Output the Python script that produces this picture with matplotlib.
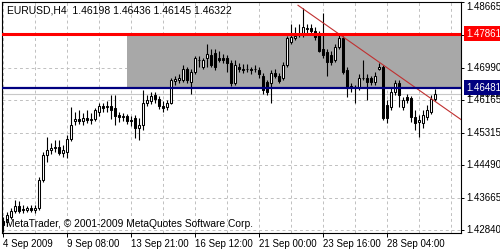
import matplotlib
matplotlib.use("Agg")
import matplotlib.pyplot as plt
from matplotlib.patches import Rectangle
import numpy as np

plt.rcParams["font.family"] = ["Liberation Sans", "DejaVu Sans"]

# EURUSD H4, Werte
opens = [1.4307, 1.4304, 1.4317, 1.4332, 1.4345, 1.4337, 1.4335, 1.4340, 1.4335, 1.4340,
         1.4411, 1.4475, 1.4488, 1.4493, 1.4496, 1.4480, 1.4483, 1.4516, 1.4562, 1.4567,
         1.4562, 1.4570, 1.4564, 1.4567, 1.4585, 1.4600, 1.4598, 1.4600, 1.4595, 1.4577,
         1.4572, 1.4575, 1.4564, 1.4570, 1.4544, 1.4552, 1.4608, 1.4613, 1.4628, 1.4618,
         1.4600, 1.4598, 1.4610, 1.4664, 1.4667, 1.4667, 1.4697, 1.4662, 1.4687, 1.4718,
         1.4700, 1.4725, 1.4731, 1.4736, 1.4725, 1.4723, 1.4723, 1.4710, 1.4659, 1.4700,
         1.4697, 1.4695, 1.4695, 1.4695,
         1.4692, 1.4679, 1.4662, 1.4659, 1.4685, 1.4677, 1.4674, 1.4705, 1.4764, 1.4774,
         1.4782, 1.4787, 1.4797, 1.4800, 1.4794, 1.4787, 1.4748, 1.4738, 1.4731, 1.4718,
         1.4751, 1.4774, 1.4692, 1.4651, 1.4649, 1.4646, 1.4672, 1.4674, 1.4672, 1.4662,
         1.4697, 1.4700, 1.4603, 1.4598, 1.4636, 1.4659, 1.4598, 1.4623, 1.4621, 1.4572,
         1.4559, 1.4557, 1.4572, 1.4585, 1.46198]
highs = [1.4317, 1.4330, 1.4340, 1.4360, 1.4358, 1.4347, 1.4345, 1.4347, 1.4347, 1.4419,
         1.4483, 1.4521, 1.4506, 1.4513, 1.4513, 1.4501, 1.4526, 1.4598, 1.4585, 1.4590,
         1.4582, 1.4590, 1.4582, 1.4595, 1.4608, 1.4610, 1.4613, 1.4628, 1.4628, 1.4585,
         1.4582, 1.4580, 1.4575, 1.4577, 1.4570, 1.4641, 1.4628, 1.4636, 1.4636, 1.4626,
         1.4613, 1.4616, 1.4674, 1.4677, 1.4682, 1.4705, 1.4702, 1.4695, 1.4728, 1.4728,
         1.4725, 1.4761, 1.4748, 1.4748, 1.4743, 1.4733, 1.4731, 1.4718, 1.4718, 1.4710,
         1.4708, 1.4708, 1.4702, 1.4705,
         1.4702, 1.4685, 1.4667, 1.4692, 1.4697, 1.4685, 1.4713, 1.4779, 1.4812, 1.4802,
         1.4810, 1.4853, 1.4812, 1.4812, 1.4802, 1.4794, 1.4838, 1.4748, 1.4743, 1.4761,
         1.4782, 1.4779, 1.4700, 1.4659, 1.4656, 1.4682, 1.4718, 1.4682, 1.4679, 1.4687,
         1.4710, 1.4705, 1.4616, 1.4646, 1.4667, 1.4667, 1.4623, 1.4633, 1.4626, 1.4590,
         1.4577, 1.4590, 1.4603, 1.4628, 1.46436]
lows = [1.4279, 1.4294, 1.4312, 1.4327, 1.4327, 1.4327, 1.4330, 1.4330, 1.4327, 1.4335,
        1.4406, 1.4457, 1.4478, 1.4483, 1.4475, 1.4470, 1.4468, 1.4511, 1.4552, 1.4554,
        1.4552, 1.4557, 1.4554, 1.4562, 1.4575, 1.4585, 1.4587, 1.4567, 1.4552, 1.4559,
        1.4562, 1.4554, 1.4549, 1.4519, 1.4513, 1.4539, 1.4600, 1.4605, 1.4608, 1.4593,
        1.4585, 1.4590, 1.4605, 1.4656, 1.4659, 1.4662, 1.4659, 1.4631, 1.4682, 1.4700,
        1.4695, 1.4700, 1.4700, 1.4692, 1.4713, 1.4710, 1.4687, 1.4651, 1.4654, 1.4687,
        1.4685, 1.4687, 1.4682, 1.4687,
        1.4674, 1.4633, 1.4628, 1.4608, 1.4672, 1.4659, 1.4667, 1.4700, 1.4761, 1.4769,
        1.4777, 1.4777, 1.4789, 1.4784, 1.4769, 1.4738, 1.4723, 1.4679, 1.4705, 1.4713,
        1.4746, 1.4682, 1.4623, 1.4636, 1.4608, 1.4641, 1.4667, 1.4616, 1.4656, 1.4656,
        1.4692, 1.4564, 1.4557, 1.4590, 1.4628, 1.4598, 1.4590, 1.4608, 1.4559, 1.4539,
        1.4521, 1.4544, 1.4564, 1.4580, 1.46145]
closes = [1.4296, 1.4322, 1.4332, 1.4345, 1.4332, 1.4335, 1.4340, 1.4335, 1.4340, 1.4411,
          1.4475, 1.4488, 1.4493, 1.4496, 1.4480, 1.4488, 1.4516, 1.4552, 1.4567, 1.4562,
          1.4570, 1.4564, 1.4567, 1.4590, 1.4600, 1.4595, 1.4600, 1.4590, 1.4575, 1.4572,
          1.4575, 1.4562, 1.4562, 1.4544, 1.4552, 1.4608, 1.4616, 1.4626, 1.4618, 1.4600,
          1.4595, 1.4608, 1.4667, 1.4669, 1.4672, 1.4697, 1.4667, 1.4687, 1.4723, 1.4720,
          1.4718, 1.4733, 1.4705, 1.4700, 1.4720, 1.4718, 1.4710, 1.4659, 1.4705, 1.4695,
          1.4692, 1.4697, 1.4692, 1.4697,
          1.4682, 1.4641, 1.4636, 1.4685, 1.4679, 1.4664, 1.4705, 1.4774, 1.4777, 1.4779,
          1.4789, 1.4802, 1.4800, 1.4792, 1.4777, 1.4743, 1.4731, 1.4713, 1.4713, 1.4751,
          1.4774, 1.4687, 1.4646, 1.4646, 1.4646, 1.4674, 1.4674, 1.4662, 1.4662, 1.4679,
          1.4702, 1.4570, 1.4570, 1.4636, 1.4659, 1.4628, 1.4616, 1.4616, 1.4572, 1.4557,
          1.4564, 1.4577, 1.4590, 1.4620, 1.46322]

time_ticks = [0, 16, 32, 48, 64, 80, 96]
time_labels = ["4 Sep 2009", "9 Sep 08:00", "13 Sep 21:00", "16 Sep 12:00",
               "21 Sep 00:00", "23 Sep 16:00", "28 Sep 04:00"]
price_ticks = [1.48665, 1.47840, 1.46990, 1.46165, 1.45315, 1.44490, 1.43665, 1.42840]

resistance = 1.47861
support = 1.46481
bid = 1.46322
box_start = 31
trend_bars = [74, 114]
trend_prices = [1.4857, 1.4570]

title = "EURUSD,H4  1.46198 1.46436 1.46145 1.46322"
copyright = "MetaTrader, \u00a9 2001-2009 MetaQuotes Software Corp."

fig = plt.figure(figsize=(5, 2.5), dpi=100)
ax = fig.add_axes([0.004, 0.068, 0.918, 0.924])
ax.set_xlim(-0.25, 114.5)
ax.set_ylim(1.42761, 1.48672)

# Raster
for t in range(0, 115, 8):
    ax.axvline(t, color="#c0c0c0", lw=0.7, ls=(0, (3, 3)), zorder=0)
for p in price_ticks:
    ax.axhline(p, color="#c0c0c0", lw=0.7, ls=(0, (3, 3)), zorder=0)

# graues Rechteck zwischen Support und Resistance
ax.add_patch(Rectangle((box_start, support), 200, resistance - support,
                       facecolor="#a8a8a8", edgecolor="none", zorder=1))

ax.axhline(bid, color="#c8c8c8", lw=0.8, zorder=1.5)
ax.axhline(resistance, color="#ff0000", lw=2.2, zorder=4)
ax.axhline(support, color="#000080", lw=1.6, zorder=4)

# Kerzen
x = np.arange(len(opens))
o = np.array(opens)
c = np.array(closes)
ax.vlines(x, lows, highs, color="black", lw=0.8, zorder=2)
up = c >= o
body_low = np.minimum(o, c)
body_h = np.maximum(np.abs(c - o), 0.00003)
ax.bar(x[up], body_h[up], bottom=body_low[up], width=0.55,
       facecolor="white", edgecolor="black", lw=0.75, zorder=3)
ax.bar(x[~up], body_h[~up], bottom=body_low[~up], width=0.55,
       facecolor="black", edgecolor="black", lw=0.75, zorder=3)

# Trendlinie (Strahl)
slope = (trend_prices[1] - trend_prices[0]) / (trend_bars[1] - trend_bars[0])
tx = np.array([trend_bars[0] - 0.25, 114.5])
ax.plot(tx, trend_prices[0] + slope * (tx - trend_bars[0]), color="#c03030",
        lw=0.8, zorder=3.5)

for s in ax.spines.values():
    s.set_color("black")
    s.set_linewidth(0.8)

ax.yaxis.tick_right()
ax.set_yticks(price_ticks)
ax.set_yticklabels([])
ax.tick_params(axis="y", length=2.5, width=0.7, color="black")
ax.set_xticks(time_ticks)
ax.set_xticklabels(time_labels, ha="left", fontsize=7)
ax.tick_params(axis="x", length=3, width=0.7, pad=1.5, color="black")

ytr = ax.get_yaxis_transform()
for p in price_ticks:
    if p == 1.47840:
        continue
    va = "top" if p == price_ticks[0] else "center"
    yy = min(p, 1.48672)
    ax.text(1.011, yy, f"{p:.5f}", transform=ytr, fontsize=7, va=va, ha="left",
            clip_on=False, zorder=5)
# Bid-Label liegt im Original halb unter dem Support-Label
ax.text(1.011, bid - 0.0001, f"{bid:.5f}", transform=ytr, fontsize=7, va="center",
        ha="left", clip_on=False, zorder=5)
ax.text(1.011, resistance, f"{resistance:.5f}", transform=ytr, fontsize=7,
        va="center", ha="left", color="white", clip_on=False, zorder=6,
        bbox=dict(facecolor="#ff0000", edgecolor="none", pad=1.6))
ax.text(1.011, support, f"{support:.5f}", transform=ytr, fontsize=7,
        va="center", ha="left", color="white", clip_on=False, zorder=6,
        bbox=dict(facecolor="#000080", edgecolor="none", pad=1.6))

ax.text(0.011, 0.965, title, transform=ax.transAxes, fontsize=7.5, va="center",
        ha="left", zorder=6)
ax.text(0.008, 0.04, copyright, transform=ax.transAxes, fontsize=7.4, va="center",
        ha="left", zorder=6)

fig.savefig("out.png", dpi=100)
